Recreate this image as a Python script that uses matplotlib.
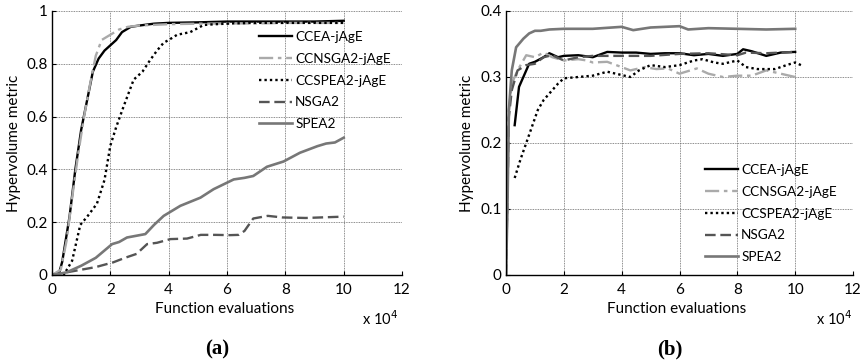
import matplotlib
matplotlib.use("Agg")
import matplotlib.pyplot as plt

plt.rcParams['font.family'] = ['Lato', 'DejaVu Sans']

labels = ["CCEA-jAgE", "CCNSGA2-jAgE", "CCSPEA2-jAgE", "NSGA2", "SPEA2"]

# ---------- panel (a) data (x in units of 1e4 function evaluations) ----------
a_ccea_x = [0, 0.25, 0.35, 0.6, 0.8, 1.0, 1.2, 1.4, 1.6, 1.8, 2.0, 2.2, 2.4, 2.7, 3.0, 3.5, 4, 5, 6, 7, 8, 9, 10]
a_ccea_y = [0, 0.01, 0.05, 0.22, 0.4, 0.55, 0.66, 0.77, 0.82, 0.85, 0.87, 0.89, 0.92, 0.94, 0.945, 0.952, 0.955, 0.957, 0.96, 0.96, 0.96, 0.96, 0.963]

a_ccnsga_x = [0, 0.3, 0.5, 0.7, 0.9, 1.1, 1.3, 1.5, 1.7, 2.0, 2.3, 2.6, 3, 4, 5, 6, 7, 8, 9, 10]
a_ccnsga_y = [0, 0.02, 0.13, 0.3, 0.46, 0.6, 0.72, 0.83, 0.89, 0.91, 0.93, 0.94, 0.945, 0.95, 0.952, 0.953, 0.953, 0.955, 0.955, 0.955]

a_ccspea_x = [0, 0.4, 0.69, 0.97, 1.2, 1.54, 1.8, 2.0, 2.2, 2.46, 2.8, 3.1, 3.37, 3.6, 3.83, 4.0, 4.29, 4.74, 5.2, 5.6, 6.2, 7, 8, 9, 10]
a_ccspea_y = [0, 0.0, 0.054, 0.19, 0.22, 0.27, 0.36, 0.49, 0.56, 0.64, 0.74, 0.77, 0.815, 0.85, 0.88, 0.89, 0.91, 0.92, 0.947, 0.95, 0.953, 0.955, 0.955, 0.955, 0.955]

a_nsga_x = [0, 0.5, 1.0, 1.5, 2.1, 2.5, 2.9, 3.26, 3.6, 4.06, 4.63, 5.1, 5.6, 6.1, 6.4, 6.6, 6.9, 7.4, 7.9, 8.7, 9.2, 10]
a_nsga_y = [0, 0.01, 0.02, 0.03, 0.048, 0.065, 0.08, 0.117, 0.122, 0.136, 0.138, 0.152, 0.152, 0.151, 0.152, 0.167, 0.214, 0.224, 0.218, 0.216, 0.218, 0.221]

a_spea_x = [0, 0.5, 1.0, 1.5, 2.06, 2.3, 2.57, 3.2, 3.5, 3.83, 4.4, 5.09, 5.54, 6.23, 6.6, 6.9, 7.37, 7.94, 8.5, 9.1, 9.4, 9.7, 10]
a_spea_y = [0, 0.01, 0.035, 0.065, 0.117, 0.125, 0.142, 0.155, 0.19, 0.224, 0.262, 0.293, 0.325, 0.362, 0.368, 0.375, 0.41, 0.43, 0.463, 0.488, 0.498, 0.502, 0.52]

# ---------- panel (b) data ----------
b_ccea_x = [0.3, 0.45, 0.6, 0.8, 1.0, 1.3, 1.5, 1.8, 2.0, 2.5, 3.0, 3.5, 4.0, 4.5, 5.0, 5.5, 6.0, 6.5, 7.0, 7.5, 8.0, 8.2, 8.5, 9.0, 9.5, 10]
b_ccea_y = [0.227, 0.285, 0.3, 0.32, 0.323, 0.33, 0.336, 0.33, 0.332, 0.333, 0.33, 0.338, 0.337, 0.337, 0.335, 0.336, 0.336, 0.333, 0.335, 0.332, 0.335, 0.342, 0.339, 0.332, 0.337, 0.338]

b_ccnsga_x = [0, 0.1, 0.2, 0.4, 0.7, 1.0, 1.3, 1.6, 2.0, 2.5, 2.8, 3.0, 3.5, 4.0, 4.3, 4.8, 5.2, 5.6, 6.0, 6.6, 7.0, 7.5, 8.0, 8.5, 9.0, 9.5, 10]
b_ccnsga_y = [0, 0.25, 0.29, 0.31, 0.333, 0.33, 0.337, 0.33, 0.325, 0.327, 0.325, 0.322, 0.323, 0.315, 0.31, 0.315, 0.312, 0.313, 0.305, 0.313, 0.305, 0.3, 0.302, 0.302, 0.31, 0.305, 0.3]

b_ccspea_x = [0.3, 0.5, 0.7, 0.9, 1.1, 1.3, 1.6, 1.8, 2.0, 2.5, 3.0, 3.5, 4.0, 4.3, 4.6, 5.0, 5.5, 6.0, 6.5, 6.8, 7.2, 7.5, 8.0, 8.3, 8.7, 9.3, 9.7, 10, 10.2]
b_ccspea_y = [0.147, 0.175, 0.2, 0.225, 0.25, 0.265, 0.28, 0.29, 0.298, 0.3, 0.302, 0.308, 0.303, 0.3, 0.31, 0.318, 0.315, 0.318, 0.325, 0.327, 0.322, 0.32, 0.325, 0.315, 0.312, 0.312, 0.318, 0.322, 0.318]

b_nsga_x = [0, 0.1, 0.2, 0.4, 0.7, 1.0, 1.3, 1.6, 2.0, 2.5, 3.0, 4.0, 5.0, 6.0, 7.0, 8.0, 8.3, 9.0, 10]
b_nsga_y = [0, 0.24, 0.28, 0.31, 0.318, 0.32, 0.33, 0.333, 0.325, 0.33, 0.332, 0.332, 0.332, 0.335, 0.336, 0.333, 0.337, 0.336, 0.338]

b_spea_x = [0, 0.05, 0.1, 0.2, 0.35, 0.6, 0.8, 1.0, 1.2, 1.5, 2, 3, 4, 4.4, 5, 6, 6.3, 7, 8, 9, 10]
b_spea_y = [0, 0.1, 0.25, 0.31, 0.345, 0.358, 0.366, 0.37, 0.37, 0.372, 0.373, 0.373, 0.376, 0.371, 0.375, 0.377, 0.372, 0.374, 0.373, 0.372, 0.373]

x_ticks = [0, 2, 4, 6, 8, 10, 12]
a_yticks = [0, 0.2, 0.4, 0.6, 0.8, 1]
a_yticklabels = ["0", "0.2", "0.4", "0.6", "0.8", "1"]
b_yticks = [0, 0.1, 0.2, 0.3, 0.4]
b_yticklabels = ["0", "0.1", "0.2", "0.3", "0.4"]

styles = [
    dict(color="black", ls="-", lw=1.7),
    dict(color="#aaaaaa", ls=(0, (6, 2, 1.5, 2)), lw=1.7),
    dict(color="black", ls=(0, (1, 1.3)), lw=1.7),
    dict(color="#555555", ls=(0, (4.5, 2)), lw=1.7),
    dict(color="#777777", ls="-", lw=1.9),
]

W, H = 863, 363
fig = plt.figure(figsize=(W / 100, H / 100), dpi=100)

def fx(px):
    return px / W

def fy(py):
    return 1 - py / H

ax_a = fig.add_axes([fx(52), fy(275), 350 / W, 264 / H])
ax_b = fig.add_axes([fx(506), fy(275), 347 / W, 264 / H])

panels = [
    dict(ax=ax_a,
         series=[(a_ccea_x, a_ccea_y), (a_ccnsga_x, a_ccnsga_y), (a_ccspea_x, a_ccspea_y),
                 (a_nsga_x, a_nsga_y), (a_spea_x, a_spea_y)],
         yt=a_yticks, ytl=a_yticklabels, ymax=1.0,
         leg=(259, 31), xlab=(225, 309), ylab=(14, 143), pow10=(398, 319), tag=(217, 349),
         tagtext="(a)"),
    dict(ax=ax_b,
         series=[(b_ccea_x, b_ccea_y), (b_ccnsga_x, b_ccnsga_y), (b_ccspea_x, b_ccspea_y),
                 (b_nsga_x, b_nsga_y), (b_spea_x, b_spea_y)],
         yt=b_yticks, ytl=b_yticklabels, ymax=0.4,
         leg=(705, 164), xlab=(677, 309), ylab=(467, 143), pow10=(852, 319), tag=(670, 349),
         tagtext="(b)"),
]

for p in panels:
    ax = p["ax"]
    handles = []
    for (xs, ys), st, lab in zip(p["series"], styles, labels):
        h, = ax.plot(xs, ys, label=lab, **st)
        handles.append(h)
    ax.set_xlim(0, 12)
    ax.set_ylim(0, p["ymax"])
    ax.set_xticks(x_ticks)
    ax.set_xticklabels([str(t) for t in x_ticks])
    ax.set_yticks(p["yt"])
    ax.set_yticklabels(p["ytl"])
    ax.grid(True, color="#666666", ls=(0, (1, 1)), lw=0.6)
    ax.spines["top"].set_visible(False)
    ax.spines["right"].set_visible(False)
    ax.spines["left"].set_linewidth(1.0)
    ax.spines["bottom"].set_linewidth(1.0)
    ax.tick_params(direction="in", length=3, labelsize=11, colors="black")
    ax.tick_params(axis="x", pad=6)
    ax.tick_params(axis="y", pad=3)
    fig.text(fx(p["xlab"][0]), fy(p["xlab"][1]), "Function evaluations",
             ha="center", va="center", fontsize=11)
    fig.text(fx(p["ylab"][0]), fy(p["ylab"][1]), "Hypervolume metric",
             ha="center", va="center", rotation=90, fontsize=11)
    fig.text(fx(p["pow10"][0]), fy(p["pow10"][1]), r"x 10$^{4}$",
             ha="right", va="center", fontsize=10.5)
    ax.legend(handles=handles, loc="upper left",
              bbox_to_anchor=(fx(p["leg"][0]), fy(p["leg"][1])),
              bbox_transform=fig.transFigure,
              frameon=False, fontsize=9.8, handlelength=2.45, handletextpad=0.2,
              labelspacing=0.72, borderaxespad=0.0, borderpad=0.0)
    fig.text(fx(p["tag"][0]), fy(p["tag"][1]), p["tagtext"], ha="center", va="center",
             fontsize=15, fontweight="bold", family="Liberation Serif")

fig.savefig("out.png", dpi=100)
